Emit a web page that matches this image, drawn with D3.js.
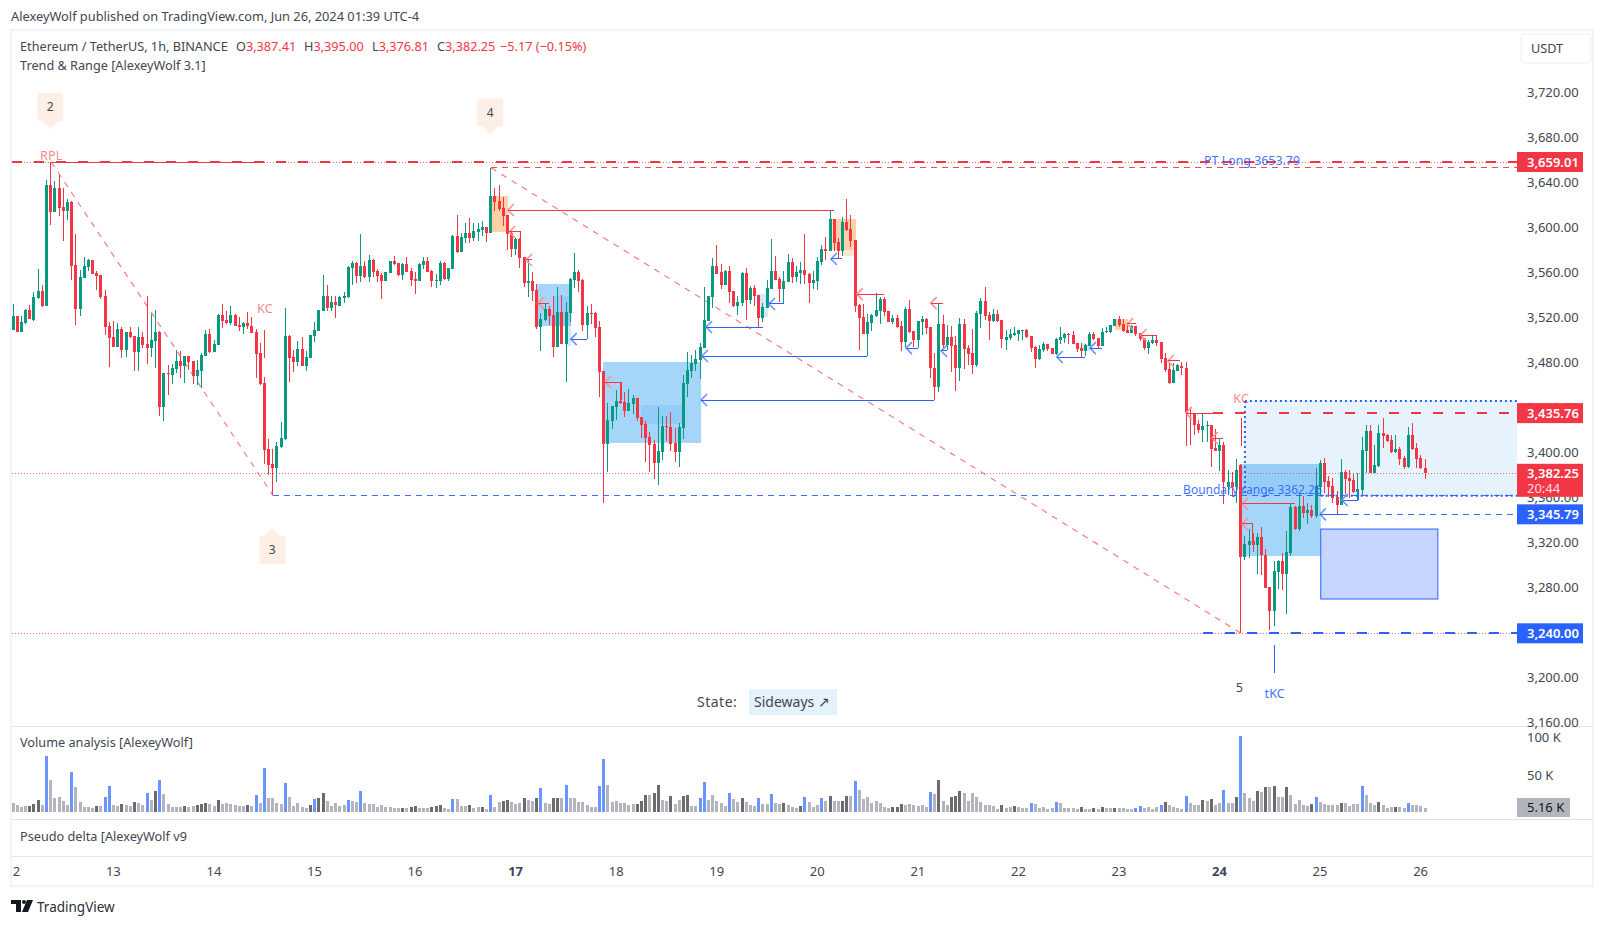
<!DOCTYPE html>
<html><head><meta charset="utf-8">
<script src="https://cdn.jsdelivr.net/npm/d3@7"></script>
<style>
html,body{margin:0;padding:0;background:#fff;overflow:hidden}
svg{display:block}
text{font-family:"Noto Sans",sans-serif;font-size:12.7px;fill:#434651}
</style></head><body>
<svg id="c" width="1605" height="926"></svg>
<script>
// [open, high, low, close] hourly candles
const candles=[
[3509.7,3532.8,3509.7,3522.1],[3522.1,3522.1,3507.9,3507.9],[3507.9,3522.1,3507.9,3516.8],[3515.9,3528.4,3515,3527.5],[3527.5,3531.9,3519.5,3519.5],[3518.6,3543.5,3517.7,3539],[3538.1,3563.9,3537.3,3544.4],[3544.4,3549.7,3530.1,3531],[3531,3643,3531,3638.6],[3638.6,3659,3603,3614.6],
[3614.6,3642.1,3614.6,3635.9],[3635.9,3647.5,3611,3618.1],[3619,3635.9,3588.8,3615.5],[3615.5,3626.1,3607.5,3623.5],[3623.5,3624.4,3554.1,3566.6],[3567.5,3595,3514.1,3528.4],[3528.4,3563,3522.1,3556.8],[3555.9,3574.6,3555.9,3566.6],[3565.7,3572.8,3562.1,3571.9],[3571.9,3571.9,3559.5,3559.5],
[3560.4,3562.1,3545.2,3557.7],[3558.6,3558.6,3537.3,3539],[3539.9,3545.2,3505.3,3512.4],[3513.3,3516.8,3476.8,3502.6],[3503.5,3517.7,3494.6,3494.6],[3494.6,3515.9,3494.6,3510.6],[3510.6,3512.4,3484.8,3491.9],[3491.9,3507.9,3485.7,3507.9],[3507.9,3512.4,3502.6,3503.5],[3504.4,3504.4,3473.2,3490.1],
[3490.1,3512.4,3473.2,3503.5],[3503.5,3507.9,3493.7,3496.4],[3497.3,3539.9,3479.5,3493.7],[3493.7,3523.9,3485.7,3500.8],[3499.9,3527.5,3475.9,3507.9],[3507.9,3508.8,3433.3,3441.2],[3441.2,3471.5,3428.8,3471.5],[3471.5,3478.6,3451.9,3470.6],[3469.7,3479.5,3461.7,3475.9],[3475,3491.9,3471.5,3482.1],
[3482.1,3491,3467,3477.7],[3477.7,3486.6,3462.6,3486.6],[3486.6,3486.6,3474.1,3481.3],[3482.1,3482.1,3461.7,3468.8],[3468.8,3483,3460.8,3474.1],[3473.2,3489.3,3458.1,3487.5],[3486.6,3509.7,3486.6,3506.1],[3506.1,3510.6,3489.3,3490.1],[3490.1,3500.8,3490.1,3497.3],[3496.4,3523.9,3496.4,3523],
[3523,3532.8,3511.5,3517.7],[3518.6,3526.6,3515,3515.9],[3515.9,3531,3514.1,3523],[3523,3523.9,3513.3,3513.3],[3514.1,3521.3,3508.8,3512.4],[3512.4,3516.8,3506.1,3515.9],[3515.9,3525.7,3510.6,3513.3],[3513.3,3521.3,3507,3507],[3507.9,3510.6,3467,3488.4],[3489.3,3498.1,3460.8,3461.7],
[3462.6,3467.9,3390.6,3403],[3403.9,3412.8,3380.8,3389.7],[3390.6,3403.9,3362.7,3387],[3387,3410.1,3374.6,3406.6],[3405.7,3427.9,3404.8,3413.7],[3412.8,3529.3,3411.9,3504.4],[3504.4,3505.3,3463.5,3484.8],[3485.7,3491.9,3472.4,3481.3],[3481.3,3499.9,3477.7,3492.8],[3492.8,3503.5,3477.7,3477.7],
[3477.7,3491,3473.2,3485.7],[3484.8,3505.3,3484.8,3505.3],[3504.4,3516.8,3499,3509.7],[3508.8,3527.5,3508.8,3527.5],[3526.6,3558.6,3526.6,3539.9],[3539.9,3549.7,3526.6,3529.3],[3529.3,3539.9,3526.6,3534.6],[3534.6,3539.9,3520.4,3531.9],[3531,3539.9,3531,3539],[3538.1,3543.5,3533.7,3539.9],
[3539,3566.6,3538.1,3565.7],[3564.8,3571,3549.7,3569.3],[3569.3,3570.2,3551.5,3557.7],[3557.7,3595,3552.4,3566.6],[3566.6,3571,3555.9,3556.8],[3556.8,3576.4,3552.4,3571.9],[3571.9,3572.8,3556.8,3561.3],[3562.1,3563.9,3552.4,3557.7],[3558.6,3560.4,3537.3,3553.3],[3553.3,3561.3,3553.3,3561.3],
[3560.4,3571,3560.4,3571],[3571,3575.5,3567.5,3568.4],[3569.3,3569.3,3557.7,3558.6],[3558.6,3569.3,3554.1,3568.4],[3568.4,3574.6,3561.3,3561.3],[3562.1,3564.8,3548.8,3554.1],[3555,3561.3,3541.7,3553.3],[3553.3,3569.3,3553.3,3568.4],[3567.5,3574.6,3563.9,3571],[3571,3574.6,3561.3,3561.3],
[3562.1,3563,3547.9,3553.3],[3553.3,3559.5,3547,3554.1],[3553.3,3571,3549.7,3569.3],[3569.3,3570.2,3554.1,3555],[3555,3564.8,3553.3,3564.8],[3563.9,3594.1,3563.9,3593.3],[3593.3,3611.9,3578.1,3579],[3579,3595.9,3579,3592.4],[3591.5,3604.8,3587,3595.9],[3595.9,3609.3,3587,3591.5],
[3591.5,3604.8,3588.8,3597.7],[3596.8,3604.8,3588.8,3599.5],[3598.6,3606.6,3593.3,3601.3],[3601.3,3601.3,3587.9,3595.9],[3595.9,3653.7,3595.9,3628.8],[3628.8,3635.9,3615.5,3623.5],[3624.4,3638.6,3615.5,3617.3],[3618.1,3627.9,3602.1,3611],[3611.9,3611.9,3580.8,3595],[3595.9,3596.8,3574.6,3581.7],
[3581.7,3591.5,3576.4,3590.6],[3590.6,3591.5,3564.8,3573.7],[3574.6,3574.6,3547.9,3551.5],[3551.5,3571.9,3539,3553.3],[3553.3,3561.3,3535.5,3544.4],[3545.2,3550.3,3510.6,3512.4],[3512.4,3524.8,3491,3519.5],[3518.6,3533.7,3517.7,3528.4],[3528.4,3531,3514.1,3522.1],[3523,3539.9,3485.7,3494.6],
[3494.6,3547.9,3494.6,3525.7],[3525.7,3540.8,3497.3,3497.3],[3497.3,3534.6,3463.5,3525.7],[3524.8,3555.9,3516.8,3555],[3554.1,3578.1,3547,3561.3],[3561.3,3563,3543.5,3553.3],[3554.1,3555,3508.8,3514.1],[3514.1,3531,3501.7,3524.8],[3524.8,3532.8,3515,3523.9],[3524.8,3525.7,3503.5,3511.5],
[3512.4,3517.7,3450.1,3472.4],[3473.2,3473.2,3356,3408.4],[3408.4,3444.8,3383.5,3429.7],[3428.8,3442.1,3421.7,3442.1],[3441.2,3456.4,3429.7,3446.6],[3446.6,3463.5,3443.9,3444.8],[3445.7,3454.6,3432.4,3437.7],[3437.7,3457.3,3437.7,3444.8],[3443.9,3451.9,3435,3449.3],[3449.3,3449.3,3428.8,3431.5],
[3432.4,3432.4,3413.7,3425.2],[3426.1,3428.8,3392.4,3413.7],[3414.6,3419,3383.5,3407.5],[3408.4,3411.9,3377.2,3391.5],[3391.5,3441.2,3372,3402.1],[3401.3,3433.3,3394.1,3424.3],[3424.3,3433.3,3411,3423.5],[3423.5,3436.8,3402.1,3408.4],[3409.2,3422.6,3392.4,3401.3],[3401.3,3427,3387.9,3423.5],
[3422.6,3469.7,3412.8,3462.6],[3461.7,3490.1,3450.1,3474.1],[3473.2,3487.5,3467,3480.4],[3479.5,3491.9,3473.2,3483.9],[3483,3498.1,3466.1,3494.6],[3493.7,3547.9,3493.7,3518.6],[3517.7,3539.9,3517.7,3539.9],[3539,3573.7,3529.3,3566.6],[3566.6,3585.3,3559.5,3559.5],[3561.3,3568.4,3546.1,3549.7],
[3549.7,3563,3549.7,3562.1],[3562.1,3566.6,3533.7,3543.5],[3544.4,3544.4,3530.1,3531],[3531,3539.9,3523,3534.6],[3533.7,3561.3,3531,3560.4],[3560.4,3564.8,3518.6,3536.4],[3536.4,3548.8,3532.8,3547],[3547,3549.7,3531,3539.9],[3540.8,3540.8,3512.4,3520.4],[3520.4,3533.7,3516.8,3530.1],
[3529.3,3554.1,3529.3,3547],[3546.1,3590.6,3546.1,3562.1],[3562.1,3575.5,3554.1,3554.1],[3555,3556.8,3534.6,3546.1],[3546.1,3562.1,3532.8,3553.3],[3552.4,3577.3,3552.4,3570.2],[3570.1,3573.7,3551.4,3556.8],[3556.8,3566.6,3552.3,3561.2],[3560.3,3570.1,3550.6,3563],[3563,3595,3550.6,3558.6],
[3559.4,3560.3,3533.7,3551.4],[3551.4,3562.1,3546.1,3554.1],[3553.2,3574.6,3545.2,3571],[3570.1,3585.2,3567.4,3581.7],[3581.7,3592.3,3571.9,3579.9],[3579.9,3616.3,3579.9,3608.3],[3608.3,3608.3,3579.9,3587],[3587.9,3591.4,3572.8,3579.9],[3579.9,3610.1,3575.4,3605.7],[3605.7,3626.1,3597.7,3598.6],
[3599.4,3611.9,3583.4,3588.8],[3589.7,3589.7,3525.7,3531],[3531.9,3532.8,3491.9,3520.3],[3521.2,3532.8,3506.1,3506.1],[3506.1,3523.9,3486.6,3516.8],[3515.9,3523.9,3508.8,3523],[3522.1,3542.6,3521.2,3527.4],[3526.6,3539,3515,3537.2],[3537.2,3539,3522.1,3525.7],[3526.6,3526.6,3516.8,3516.8],
[3516.8,3523,3515,3520.3],[3520.3,3523,3511.4,3512.3],[3513.2,3517.7,3491,3499],[3499,3530.1,3494.6,3528.3],[3528.3,3536.3,3507,3507.9],[3508.8,3508.8,3494.6,3500.8],[3500.8,3517.7,3493.4,3517.7],[3516.8,3522.1,3505.2,3519.4],[3519.4,3520.3,3506.1,3511.4],[3512.3,3512.3,3467,3475.6],
[3475.6,3489.2,3447.4,3459],[3459,3533.7,3454.6,3515],[3515,3523,3493.7,3496.3],[3496.3,3514.1,3491.9,3503.4],[3503.4,3513.2,3472.3,3495.4],[3496.3,3504.3,3455.4,3475.9],[3475.9,3520.3,3464.3,3515],[3515,3519.4,3475,3492.8],[3493.7,3496.3,3478.6,3488.3],[3489.2,3510.6,3470.6,3478.6],
[3478.6,3526.6,3476.8,3524.8],[3523.9,3538.1,3511.4,3535.4],[3535.4,3547.9,3518.6,3522.1],[3523,3525.7,3500.8,3517.7],[3517.7,3528.3,3516.8,3523.9],[3523.9,3527.4,3516.8,3517.7],[3518.6,3518.6,3493.7,3501.7],[3500.8,3509.7,3491.9,3503.4],[3502.6,3510.6,3500.8,3506.1],[3505.2,3512.3,3504.3,3507],
[3506.1,3509.7,3499.9,3509.7],[3509.4,3509.7,3500.8,3509.7],[3509.7,3510.6,3502.6,3503.4],[3504.3,3504.3,3490.1,3493.7],[3494.6,3495.4,3475.9,3483.9],[3483.9,3496.3,3483,3492.8],[3491.9,3499,3490.1,3497.2],[3497.2,3497.2,3491,3492.8],[3493.7,3493.7,3488.3,3488.3],[3488.3,3502.6,3487.4,3501.7],
[3500.8,3512.3,3497.2,3503.4],[3502.6,3507,3498.1,3506.1],[3506.1,3507,3497.2,3505.2],[3505.2,3508.8,3497.2,3497.2],[3498.1,3498.1,3490.1,3492.8],[3493.7,3498.1,3485.7,3491],[3491,3497.2,3486.6,3496.3],[3495.4,3507.9,3495.4,3506.1],[3506.1,3507.9,3500.8,3501.7],[3502.6,3502.6,3493.7,3495.4],
[3495.4,3511.4,3495.4,3507.9],[3507.9,3512.3,3507,3508.8],[3507.9,3514.1,3507,3514.1],[3513.2,3519.4,3513.2,3519.4],[3519.4,3522.1,3512.3,3514.1],[3515,3519.4,3507.9,3508.8],[3509.7,3514.1,3507,3507],[3507,3514.1,3507,3513.2],[3513.2,3513.2,3504.3,3506.1],[3507,3507,3499.9,3501.7],
[3502.6,3502.6,3491.9,3493.7],[3493.7,3500.8,3488.3,3499],[3498.1,3504.3,3497.2,3500.8],[3500.8,3505.2,3495.4,3498.1],[3499,3499,3480.3,3483.9],[3484.8,3489.2,3472.3,3474.1],[3475,3480.3,3461.7,3462.6],[3462.6,3480.3,3462.6,3474.1],[3473.2,3479.4,3473.2,3478.6],[3478,3481,3470,3476],
[3476,3481,3406.5,3435.6],[3435.6,3440.9,3407.4,3434.7],[3435.6,3435.6,3416.3,3425.2],[3426.1,3429.7,3417.8,3420.8],[3420.8,3435.6,3410.4,3424.3],[3424.3,3429.1,3410.4,3425.2],[3425.2,3425.2,3388.2,3403.9],[3404.8,3421.4,3402.1,3402.1],[3402.1,3413.4,3384.3,3407.4],[3407.4,3409.8,3355,3374.8],
[3370.4,3385.2,3363,3374.8],[3374.8,3383.7,3363,3369.8],[3369.8,3395,3356.2,3385.2],[3389.7,3390.3,3240,3308.2],[3308.2,3326.5,3305.2,3319.4],[3318.5,3332.5,3306.7,3321.8],[3321.8,3328.9,3312.6,3318.5],[3318.5,3328.9,3292.8,3325.4],[3325.4,3334.2,3291.9,3309.4],[3309.4,3314.7,3280.3,3280.3],
[3281.2,3281.2,3243,3259.9],[3259.9,3304.3,3246.8,3295.4],[3294.5,3305.2,3279.1,3304.3],[3304.3,3311.1,3278.5,3292.8],[3292.8,3331,3257.2,3312.3],[3311.4,3355.9,3308.8,3352.3],[3352.3,3353.2,3331.9,3332.5],[3332.5,3364.5,3331,3353.2],[3353.2,3362.1,3342.2,3347],[3346.7,3355.6,3337.2,3349.7],
[3349.7,3354.1,3342.2,3344.3],[3344.3,3386.7,3342.8,3371.3],[3370.4,3394.1,3363,3391.4],[3391.4,3395.6,3364.5,3374.5],[3375.4,3379.9,3361.5,3369.8],[3370.7,3377.8,3356.2,3360],[3360.9,3366.5,3346.1,3354.1],[3354.1,3394.7,3354.1,3383.4],[3383.4,3385.2,3363.9,3377.2],[3378.1,3385.2,3360,3375.4],
[3376.3,3381.7,3364.5,3365.7],[3365.7,3382.2,3358.5,3368.3],[3367.4,3414.8,3362.7,3403],[3402.1,3425.2,3382.2,3419.9],[3419.9,3425.2,3382.2,3382.2],[3382.2,3407.4,3382.2,3389.7],[3388.8,3425.2,3388.2,3418.1],[3418.1,3431.7,3404.5,3415.4],[3416.3,3417.2,3410.4,3411],[3411.9,3416.3,3400,3400.9],
[3400.9,3416.3,3400,3403.9],[3403.9,3405.4,3389.7,3395],[3395.9,3397.7,3385.8,3387.6],[3387.6,3423.7,3386.7,3416.3],[3416.3,3427.3,3403,3403.6],[3404.5,3408.9,3386.7,3395],[3395.9,3398.5,3386.1,3386.7],[3387.41,3395,3376.81,3382.25]];

// Volume per candle, in thousands
const volumes=[12,9.4,7.6,8,8,10.7,16,9.4,76,43,18.8,20,14.8,9.4,54,33.5,13.4,6.7,6.7,5.4,8,8,20,35,9.4,8,10.7,9.4,8,13.4,12,9.4,25.5,16,28,43,24,10.7,6.7,6.7,6.7,8,6.7,8,9.4,10.7,12,10.7,8,16,10.7,12,10.7,9.4,8,8,9.4,8,23,12,60,18.8,18.8,12,10.7,39,20,8,12,6.7,5.4,9.4,17.4,18.8,25.5,14.8,8,12,8,9.4,16,14.8,13.4,28,12,10.7,10.7,6.7,9.4,6.7,6.7,5.4,5.4,5.4,5.4,6.7,8,5.4,5.4,5.4,6.7,8,9.4,5.4,4,17.4,17.4,8,8,9.4,5.4,6.7,6.7,4,23,6.7,13.4,
14.8,16,13.4,10.7,12,18.8,16,14.8,18.8,32,12,10.7,18.8,18.8,18.8,36,18.8,18.8,13.4,13.4,9.4,6.7,6.7,35,72,36,13.4,14.8,12,12,9.4,10.7,10.7,14.8,23,23,25.5,36,16,14.8,21.5,10.7,16,21.5,23,8,8,18.8,40,16,23,14.8,12,8,25.5,17.4,13.4,18.8,13.4,9.4,8,18.8,10.7,10.7,24,12,10.7,12,9.4,6.7,5.4,8,
20,13.4,6.7,9.4,18.8,14.8,21.5,14.8,14.8,14.8,21.5,21.5,41.5,29.5,17.4,20,12,14.8,12,6.7,5.4,6.7,6.7,10.7,9.4,10.7,9.4,8,9.4,6.7,27,24,43,14.8,9.4,20,21.5,28,25.5,14.8,25.5,20,13.4,9.4,9.4,8,4,9.4,5.4,6.7,8,6.7,5.4,5.4,12,10.7,5.4,6.7,4,5.4,13.4,12,5.4,5.4,5.4,4,6.7,4,4,5.4,4,6.7,5.4,5.4,
5.4,5.4,5.4,4,4,5.4,8,5.4,6.7,4,6.7,9.4,13.4,9.4,6.7,5.4,4,21.5,12,9.4,9.4,16,14.8,17.4,9.4,12,29.5,12,12,20,102,25.5,18.8,14.8,28,27,33.5,33.5,35,20,20,33.5,23,10.7,16,9.4,8,10.7,20,13.4,10.7,9.4,9.4,9.4,12,12,8,10.7,10.7,35,23,12,9.4,13.4,9.4,5.4,6.7,6.7,6.7,5.4,12,9.4,9.4,8,5.16];
const volumeBlue=[8,14,22,23,32,35,58,60,65,72,80,83,105,114,126,132,140,141,164,165,171,178,181,189,193,201,219,243,249,268,269,274,280,289,293,311,322,333];
const volumeDark=[4,5,6,20,26,29,34,41,44,45,46,49,56,71,73,74,93,95,96,100,101,102,109,112,117,118,122,125,129,130,149,150,151,153,154,157,160,161,174,184,188,195,198,199,210,211,212,221,224,225,226,236,239,255,258,260,263,275,284,286,292,297,299,301,304,310,317,326,330];

const priceTicks=[3160,3200,3240,3280,3320,3360,3400,3440,3480,3520,3560,3600,3640,3680,3720];
const volumeTicks=[50,100];
const dayTicks=[0,24,48,72,96,120,144,168,192,216,240,264,288,312,336];
const dayLabels=["12","13","14","15","16","17","18","19","20","21","22","23","24","25","26"];
const boldDays=["17","24"];

// Level lines: [candle start, candle end, price]; end null = to the price scale
const dottedLevels=[3659.01,3382.25,3240];
const redThickLevels=[[-1,null,3659.01],[286.3,null,3435.76]];
const blueThickLevels=[[283.9,null,3240]];
const redSolid=[[9,60,3659.01],[279.8,286.3,3435.76]];
const redThinDashed=[[114,null,3653.79]];
const blueThinDashed=[[62,null,3362.26],[317,null,3345.79]];
const trendDiagonals=[[9,3659.01,62,3362.26],[114,3653.79,293,3240]];
// Arrow lines: [candle at arrow head, candle at tail, price]
const blueArrows=[[165.3,178.9,3512.3],[164.3,203.7,3486.5],[164.1,219.7,3447.4],[133,136.9,3501.6],[180.3,183.9,3532.8],[195.1,197.7,3572.8],[213,215.9,3493.6],[249,255.7,3485.6],[256.9,259.8,3493.6],[221.4,222.8,3491],[311.8,317,3345.79],[317,320.9,3358.5]];
const redArrows=[[118,195.8,3616.3],[118.3,121.1,3596.8],[122.3,123.7,3571.9],[125.2,127.8,3533.6],[141.2,145,3463.4],[201.3,207.7,3541.6],[218.9,221.8,3533.6],[265.8,267.9,3515],[269,272.9,3505.2],[275.5,278.4,3482.1],[286,288.7,3413.6],[293.2,305.8,3355],[293.2,295.8,3337.2],[279.8,282,3435.76]];
// Vertical tails: [candle, price from, price to]
const redTails=[[121.1,3596.8,3581],[145,3463.4,3447],[295.8,3337.2,3321]];
const blueTails=[[320.9,3358.5,3366]];
// Measure bars: [candle, price top, price bottom]
const redBars=[[60,3509.6,3484.7],[293,3431.7,3406.8]];
const blueBars=[[301,3229.6,3204.7]];
// Zones: [candle left, candle right, price top, price bottom]
const blueZones=[[124.9,133.1,3550.5,3513.2],[140.7,164.1,3481.2,3409.2],[292.9,312,3390.5,3308.7]];
const innerBlueZones=[[128.8,133.1,3539.9,3513.2],[149.8,159.8,3443,3426.1]];
const lightBlueZones=[[131.9,133.1,3513.2,3495.4],[177.9,180.1,3541.6,3521.2],[255,256.9,3497.2,3491]];
const orangeZones=[[114.2,118,3628.8,3596.8],[195.4,201.1,3608.3,3580.8],[262.9,266,3519.4,3509.7]];
const lightOrangeZones=[[197.9,201.1,3580.8,3575.4]];
const rangeZone=[293.9,null,3446.5,3362.26];
const targetZone=[312,339.95,3332.7,3270.5];
// Labels on the chart: [candle, price, text]
const softRedLabels=[[9,3664.6,"RPL"],[60,3528.3,"KC"],[293,3449,"KC"]];
const softBlueLabels=[[301,3186,"tKC"]];
const plainLabels=[[292.6,3192,"5"]];
const downMarkers=[[9,3707.9,"2"],[114,3703,"4"]];
const upMarkers=[[62,3314,"3"]];
const priceBadges=[[3659.01,"3,659.01","#f23645"],[3435.76,"3,435.76","#f23645"],[3345.79,"3,345.79","#2962ff"],[3240,"3,240.00","#2962ff"]];
const lastPrice=3382.25, countdown="20:44", lastVolume="5.16 K";
const legendValues=[["O","3,387.41",236],["H","3,395.00",304],["L","3,376.81",372],["C","3,382.25",437]];

const RED="#f23645",GREEN="#089981",BLUE="#2962ff";
const svg=d3.select("#c");
const x=d3.scaleLinear().domain([0,337]).range([13.5,1425.5]);
const y=d3.scaleLinear().domain([3160,3720]).range([723.3,93.4]);
const vy=d3.scaleLinear().domain([0,100]).range([812.3,737.7]);
const left=12,right=1517;
const X=i=>i===null?right:(i<0?left:x(i));
const snap=v=>Math.round(v);
const barX=i=>snap(x(i)-1);

const defs=svg.append("defs");
defs.append("clipPath").attr("id","pane").append("rect").attr("x",left).attr("y",31).attr("width",right-left).attr("height",695);
defs.append("clipPath").attr("id","time").append("rect").attr("x",left).attr("y",857).attr("width",right-left).attr("height",29);

// frame
svg.append("rect").attr("x",11).attr("y",30).attr("width",1582).attr("height",856).attr("fill","none").attr("stroke","#f0f3fa").attr("stroke-width",2);
[726.5,819.5,856.5].forEach(v=>svg.append("line").attr("x1",12).attr("x2",1592).attr("y1",v).attr("y2",v).attr("stroke","#e0e3eb"));

const pane=svg.append("g").attr("clip-path","url(#pane)");
function zones(list,fill,op){
  pane.append("g").selectAll("rect").data(list).join("rect")
    .attr("x",d=>X(d[0])).attr("width",d=>X(d[1])-X(d[0]))
    .attr("y",d=>y(d[2])).attr("height",d=>y(d[3])-y(d[2]))
    .attr("fill",fill).attr("fill-opacity",op);
}
zones([rangeZone],"#e3f2fd",0.9);
zones(blueZones,"#2196f3",0.4);
zones(innerBlueZones,"#2196f3",0.14);
zones(lightBlueZones,"#2196f3",0.2);
zones(orangeZones,"#f57c00",0.35);
zones(lightOrangeZones,"#f57c00",0.18);

function hlines(list,color,w,dash,op){
  pane.append("g").selectAll("line").data(list).join("line")
    .attr("x1",d=>X(d[0])).attr("x2",d=>X(d[1]))
    .attr("y1",d=>y(d[2])).attr("y2",d=>y(d[2]))
    .attr("stroke",color).attr("stroke-width",w).attr("stroke-dasharray",dash).attr("stroke-opacity",op)
    .attr("shape-rendering","crispEdges");
}
// trend diagonals
pane.append("g").selectAll("line").data(trendDiagonals).join("line")
  .attr("x1",d=>x(d[0])).attr("y1",d=>y(d[1])).attr("x2",d=>x(d[2])).attr("y2",d=>y(d[3]))
  .attr("stroke",RED).attr("stroke-opacity",0.65).attr("stroke-dasharray","6 6").attr("stroke-width",1.2);

// candles
const cg=pane.append("g").attr("shape-rendering","crispEdges");
const cand=cg.selectAll("g").data(candles).join("g").attr("fill",d=>d[3]>=d[0]?GREEN:RED);
cand.append("rect").attr("x",(d,i)=>barX(i)).attr("width",1)
  .attr("y",d=>snap(y(d[1]))).attr("height",d=>Math.max(1,snap(y(d[2]))-snap(y(d[1]))));
cand.append("rect").attr("x",(d,i)=>barX(i)-1).attr("width",3)
  .attr("y",d=>snap(y(Math.max(d[0],d[3])))).attr("height",d=>Math.max(1,snap(y(Math.min(d[0],d[3])))-snap(y(Math.max(d[0],d[3])))));

// range-zone dotted outline
const dotted=pane.append("g").attr("stroke",BLUE).attr("stroke-width",2).attr("stroke-dasharray","2 3");
dotted.append("line").attr("x1",X(rangeZone[0])).attr("x2",right).attr("y1",y(rangeZone[2])).attr("y2",y(rangeZone[2]));
dotted.append("line").attr("x1",X(rangeZone[0])).attr("x2",X(rangeZone[0])).attr("y1",y(rangeZone[2])).attr("y2",y(rangeZone[3]));
dotted.append("line").attr("x1",X(312)).attr("x2",right).attr("y1",y(rangeZone[3])).attr("y2",y(rangeZone[3]));

// target zone
pane.append("rect").datum(targetZone)
  .attr("x",d=>x(d[0])).attr("width",d=>x(d[1])-x(d[0])).attr("y",d=>y(d[2])).attr("height",d=>y(d[3])-y(d[2]))
  .attr("fill","#2962ff").attr("fill-opacity",0.27).attr("stroke",BLUE).attr("stroke-width",1);

// levels
pane.append("g").selectAll("line").data(dottedLevels).join("line")
  .attr("x1",left).attr("x2",right).attr("y1",d=>y(d)).attr("y2",d=>y(d))
  .attr("stroke",RED).attr("stroke-dasharray","1 2").attr("stroke-opacity",0.75).attr("shape-rendering","crispEdges");
hlines(redThinDashed,RED,1,"6 5",0.9);
hlines(blueThinDashed,BLUE,1,"6 5",0.9);
hlines(redThickLevels,RED,2,"10 12",1);
hlines(blueThickLevels,BLUE,2,"10 12",1);
hlines(redSolid,RED,1,null,1);

// arrows
function arrows(list,color,soft){
  const g=pane.append("g");
  hlines(list,color,1,null,1);
  g.selectAll("path").data(list).join("path")
    .attr("d",d=>{const a=X(d[0]),b=y(d[2]);return `M${a+6},${b-6}L${a},${b}L${a+6},${b+6}`;})
    .attr("fill","none").attr("stroke",soft).attr("stroke-width",1.6);
}
arrows(blueArrows,BLUE,"#6a95ff");
arrows(redArrows,RED,"#ff9090");
function vbars(list,color){
  pane.append("g").selectAll("line").data(list).join("line")
    .attr("x1",d=>x(d[0])).attr("x2",d=>x(d[0])).attr("y1",d=>y(d[1])).attr("y2",d=>y(d[2]))
    .attr("stroke",color).attr("shape-rendering","crispEdges");
}
vbars(redTails,RED);vbars(blueTails,BLUE);vbars(redBars,RED);vbars(blueBars,BLUE);

// chart labels
function labels(list,color,op){
  pane.append("g").selectAll("text").data(list).join("text")
    .attr("x",d=>x(d[0])).attr("y",d=>y(d[1])).attr("dy","0.35em").attr("text-anchor","middle")
    .text(d=>d[2]).style("fill",color).style("fill-opacity",op);
}
labels(softRedLabels,RED,0.62);
labels(softBlueLabels,BLUE,0.9);
labels(plainLabels,"#434651",1);
pane.append("text").attr("x",x(295.7)).attr("y",y(3368)).attr("dy","0.35em").attr("text-anchor","middle").text("Boundary range 3362.26").style("fill",BLUE).style("fill-opacity",0.9).style("font-size","12px");
pane.append("text").attr("x",x(295.6)).attr("y",y(3660.6)).attr("dy","0.35em").attr("text-anchor","middle").text("PT Long 3653.79").style("fill",BLUE).style("fill-opacity",0.9).style("font-size","12.4px");

// flag markers
const dn="M-13,-12Q-13,-14 -11,-14H11Q13,-14 13,-12V12Q13,14 11,14H8L0,22L-8,14H-11Q-13,14 -13,12Z";
const up="M-13,12Q-13,14 -11,14H11Q13,14 13,12V-12Q13,-14 11,-14H8L0,-22L-8,-14H-11Q-13,-14 -13,-12Z";
function markers(list,path){
  const m=pane.append("g").selectAll("g").data(list).join("g").attr("transform",d=>`translate(${x(d[0])-1},${y(d[1])})`);
  m.append("path").attr("d",path).attr("fill","#fdeee6");
  m.append("text").attr("text-anchor","middle").attr("dy","0.35em").text(d=>d[2]).style("fill","#434651").style("font-size","12px");
}
markers(downMarkers,dn);markers(upMarkers,up);

// state badge
svg.append("rect").attr("x",749).attr("y",689).attr("width",88).attr("height",26).attr("fill","#e3f2fd");
svg.append("text").attr("x",697).attr("y",702).attr("dy","0.35em").text("State:").style("font-size","14px").style("letter-spacing","0.5px");
svg.append("text").attr("x",754).attr("y",702).attr("dy","0.35em").text("Sideways ↗").style("font-size","14px");

// price axis
const yAxis=svg.append("g").attr("transform",`translate(${right},0)`)
  .call(d3.axisRight(y).tickValues(priceTicks).tickSize(0).tickPadding(10).tickFormat(d3.format(",.2f")));
yAxis.select(".domain").remove();
yAxis.selectAll("text").attr("dy","0.22em").style("font-size","13px").style("font-family",'"Noto Sans",sans-serif').style("fill","#434651");

// price badges
const bad=svg.append("g").selectAll("g").data(priceBadges).join("g").attr("transform",d=>`translate(${right},${y(d[0])})`);
bad.append("rect").attr("y",-10).attr("width",66).attr("height",20).attr("fill",d=>d[2]);
bad.append("text").attr("x",10).attr("dy","0.35em").text(d=>d[1]).style("fill","#fff").style("font-weight",600).style("font-size","13px");
const lp=svg.append("g").attr("transform",`translate(${right},${y(lastPrice)})`);
lp.append("rect").attr("y",-9.5).attr("width",66).attr("height",33).attr("fill",RED);
lp.append("text").attr("x",10).attr("dy","0.35em").text(d3.format(",.2f")(lastPrice)).style("fill","#fff").style("font-weight",600).style("font-size","13px");
lp.append("text").attr("x",10).attr("y",14.7).attr("dy","0.35em").text(countdown).style("fill","#fff").style("fill-opacity",0.85).style("font-size","13px");

// USDT
svg.append("rect").attr("x",1521).attr("y",34).attr("width",70).attr("height",29).attr("rx",4).attr("fill","#fff").attr("stroke","#f0f3fa").attr("stroke-width",1.5);
svg.append("text").attr("x",1531).attr("y",49).attr("dy","0.35em").text("USDT");

// volume
const blueSet=new Set(volumeBlue),darkSet=new Set(volumeDark);
svg.append("g").attr("shape-rendering","crispEdges").selectAll("rect").data(volumes).join("rect")
  .attr("x",(d,i)=>barX(i)-1).attr("width",3)
  .attr("y",d=>snap(vy(d))).attr("height",d=>812-snap(vy(d)))
  .attr("fill",(d,i)=>blueSet.has(i)?"#6a95ff":darkSet.has(i)?"#6b6b6b":"#b2b5be");
const vAxis=svg.append("g").attr("transform",`translate(${right},0)`)
  .call(d3.axisRight(vy).tickValues(volumeTicks).tickSize(0).tickPadding(10).tickFormat(d=>d+" K"));
vAxis.select(".domain").remove();
vAxis.selectAll("text").style("font-size","13px").style("font-family",'"Noto Sans",sans-serif').style("fill","#434651");
svg.append("rect").attr("x",right).attr("y",798).attr("width",53).attr("height",19).attr("fill","#b2b5be");
svg.append("text").attr("x",right+10).attr("y",807.5).attr("dy","0.35em").text(lastVolume).style("fill","#131722").style("font-size","13px");

// time axis
const tClip=svg.append("g").attr("clip-path","url(#time)");
const tAxis=tClip.append("g").attr("transform","translate(-1.2,864)")
  .call(d3.axisBottom(x).tickValues(dayTicks).tickSize(0).tickPadding(3).tickFormat((d,i)=>dayLabels[i]));
tAxis.select(".domain").remove();
tAxis.selectAll("text").style("font-size","13px").style("font-family",'"Noto Sans",sans-serif').style("fill","#434651")
  .style("font-weight",(d,i)=>boldDays.includes(dayLabels[i])?700:400);

// header & legend
svg.append("text").attr("x",11).attr("y",16.5).attr("dy","0.35em").text("AlexeyWolf published on TradingView.com, Jun 26, 2024 01:39 UTC-4").style("font-size","12.8px");
svg.append("text").attr("x",20).attr("y",47).attr("dy","0.35em").text("Ethereum / TetherUS, 1h, BINANCE");
svg.append("text").attr("x",20).attr("y",65.5).attr("dy","0.35em").text("Trend & Range [AlexeyWolf 3.1]");
legendValues.forEach(v=>{
  const t=svg.append("text").attr("x",v[2]).attr("y",47).attr("dy","0.35em");
  t.append("tspan").text(v[0]);
  t.append("tspan").text(v[1]).style("fill",RED);
});
svg.append("text").attr("x",500).attr("y",47).attr("dy","0.35em").text("−5.17 (−0.15%)").style("fill",RED);
svg.append("text").attr("x",20).attr("y",743).attr("dy","0.35em").text("Volume analysis [AlexeyWolf]");
svg.append("text").attr("x",20).attr("y",837).attr("dy","0.35em").text("Pseudo delta [AlexeyWolf v9");

// brand
svg.append("path").attr("d","M11,900H21V912H16V904H11Z M27,900H33L28,912H22Z").attr("fill","#131722");
svg.append("circle").attr("cx",24).attr("cy",902).attr("r",2).attr("fill","#131722");
svg.append("text").attr("x",37).attr("y",907).attr("dy","0.35em").text("TradingView").style("font-size","13.5px").style("fill","#2a2e39");
</script></body></html>
